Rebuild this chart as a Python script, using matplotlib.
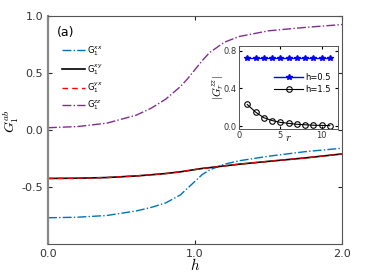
import matplotlib
matplotlib.use("Agg")
import matplotlib.pyplot as plt
import numpy as np

h = [0.0, 0.2, 0.4, 0.6, 0.7, 0.8, 0.9, 0.95, 1.0, 1.05, 1.1, 1.2, 1.3, 1.5, 1.75, 2.0]
G_xx = [-0.77, -0.765, -0.75, -0.71, -0.68, -0.64, -0.57, -0.51, -0.45, -0.39, -0.35, -0.30, -0.27, -0.23, -0.19, -0.16]
G_xy = [-0.425, -0.423, -0.417, -0.403, -0.393, -0.382, -0.367, -0.357, -0.347, -0.337, -0.33, -0.315, -0.30, -0.275, -0.245, -0.21]
G_yx = G_xy
G_zz = [0.02, 0.03, 0.06, 0.13, 0.19, 0.27, 0.38, 0.45, 0.53, 0.61, 0.68, 0.77, 0.82, 0.87, 0.90, 0.925]

r = [1, 2, 3, 4, 5, 6, 7, 8, 9, 10, 11]
Gr_h05 = [0.72, 0.72, 0.72, 0.72, 0.72, 0.72, 0.72, 0.72, 0.72, 0.72, 0.72]
Gr_h15 = [0.23, 0.15, 0.09, 0.06, 0.04, 0.03, 0.02, 0.015, 0.01, 0.008, 0.006]

W, H = 374, 280
fig = plt.figure(figsize=(W/100, H/100), dpi=100)
ax = fig.add_axes([48/W, 1-244/H, (342-48)/W, (244-16)/H])

axcol = '#262626'
ax.plot(h, G_xx, color='#0072BD', ls='-.', lw=1.0, label=r'G$_1^{xx}$')
ax.plot(h, G_xy, color='black', ls='-', lw=1.2, label=r'G$_1^{xy}$')
ax.plot(h, G_yx, color='red', ls=(0, (4, 3)), lw=1.0, label=r'G$_1^{yx}$')
ax.plot(h, G_zz, color='#7E2F8E', ls='-.', lw=1.0, label=r'G$_1^{zz}$')
ax.set_xlim(0, 2)
ax.set_ylim(-1, 1)
ax.set_xticks([0, 1, 2])
ax.set_xticklabels(['0.0', '1.0', '2.0'])
ax.set_yticks([-0.5, 0.0, 0.5, 1.0])
ax.set_yticklabels(['-0.5', '0.0', '0.5', '1.0'])
ax.tick_params(direction='in', labelsize=8, colors=axcol, top=True, right=True, length=3, labelcolor='#333333')
for s in ax.spines.values():
    s.set_color('#555555')
    s.set_linewidth(0.8)
ax.spines['left'].set_color('#888888')
ax.spines['left'].set_linewidth(1.6)
ax.set_xlabel(r'$h$', fontsize=11, labelpad=-1, math_fontfamily='cm')
ax.set_ylabel(r'$G_1^{ab}$', fontsize=10, labelpad=-1, math_fontfamily='cm')
ax.yaxis.set_label_coords(-0.092, 0.54)
ax.text(0.03, 0.955, '(a)', transform=ax.transAxes, fontsize=9, va='top', ha='left')
leg = ax.legend(loc='upper left', bbox_to_anchor=(0.035, 0.89), frameon=False, fontsize=6,
                handlelength=2.8, labelspacing=0.45, handletextpad=0.2, borderaxespad=0)

ins = fig.add_axes([239/W, 1-129/H, (338-239)/W, (129-46)/H])
ins.plot(r, Gr_h05, color='blue', marker='*', ms=4, lw=1.0, label='h=0.5')
ins.plot(r, Gr_h15, color='black', marker='o', ms=4, mfc='none', mew=0.8, lw=0.8, label='h=1.5')
ins.set_xlim(0, 12)
ins.set_ylim(-0.03, 0.85)
ins.set_xticks([0, 5, 10])
ins.set_yticks([0.0, 0.4, 0.8])
ins.set_yticklabels(['0.0', '0.4', '0.8'])
ins.tick_params(direction='in', labelsize=6, top=True, right=True, length=2, pad=1.5, labelcolor='#333333')
for s in ins.spines.values():
    s.set_color('#555555')
    s.set_linewidth(0.7)
ins.set_xlabel(r'$r$', fontsize=8, labelpad=-5, math_fontfamily='cm')
ins.set_ylabel(r'$|G_r^{zz}|$', fontsize=8, labelpad=-2, math_fontfamily='cm')
ins.legend(loc='center right', bbox_to_anchor=(1.0, 0.55), frameon=False, fontsize=6,
           handlelength=3.5, labelspacing=0.3, handletextpad=0.2)

fig.savefig('out.png', dpi=100)
